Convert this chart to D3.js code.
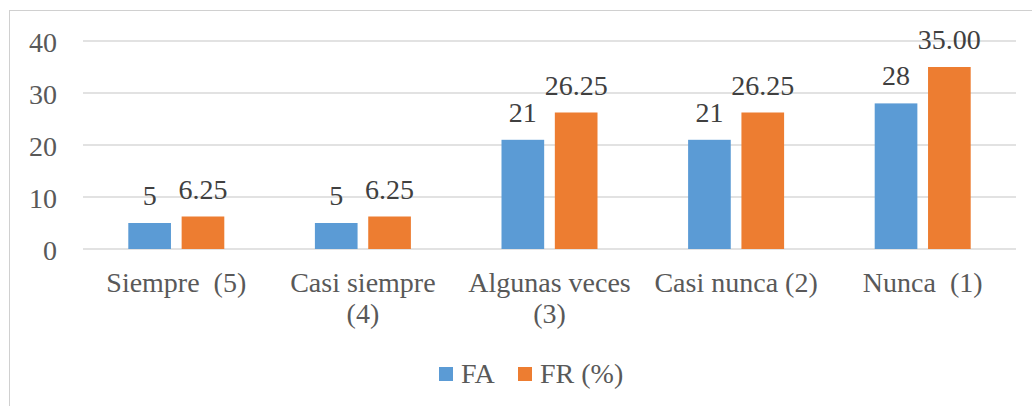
<!DOCTYPE html>
<html>
<head>
<meta charset="utf-8">
<script src="https://cdn.jsdelivr.net/npm/d3@7"></script>
<style>
  @font-face { font-family: "ChartSerif"; src: local("Liberation Serif"), local("LiberationSerif"), local("LiberationSerif-Regular"), local("Times New Roman"); }
</style>
</head>
<body style="margin:0">
<svg id="chart" width="1032" height="406" style="display:block"></svg>
<script>
const categories = ["Siempre  (5)", "Casi siempre\n(4)", "Algunas veces\n(3)", "Casi nunca (2)", "Nunca  (1)"];
const seriesNames = ["FA", "FR (%)"];
const fa = [5, 5, 21, 21, 28];
const fr = [6.25, 6.25, 26.25, 26.25, 35.00];
const frLabels = ["6.25", "6.25", "26.25", "26.25", "35.00"];
const yTicks = [0, 10, 20, 30, 40];
const colors = ["#5B9BD5", "#ED7D31"];

drawChart();

function drawChart() {
  const svg = d3.select("#chart");
  const left = 83, right = 1016, top = 41, bottom = 249;
  const serif = "'Liberation Serif', ChartSerif, Tinos, 'Times New Roman', FreeSerif, serif";

  // outer frame (only top and left edges are visible)
  svg.append("rect")
    .attr("x", 9.5).attr("y", 10.5)
    .attr("width", 1040).attr("height", 420)
    .attr("fill", "none").attr("stroke", "#d0d0d0");

  const x = d3.scaleBand().domain(categories).range([left, right]);
  const inner = d3.scaleBand().domain(seriesNames).range([-48, 48]).paddingInner(0.2);
  const y = d3.scaleLinear().domain([0, 40]).range([bottom, top]);

  // gridlines
  svg.append("g").selectAll("line")
    .data(yTicks).enter().append("line")
    .attr("x1", left).attr("x2", right)
    .attr("y1", d => y(d)).attr("y2", d => y(d))
    .attr("stroke", "#d9d9d9").attr("stroke-width", 1.3);

  // y tick labels
  svg.append("g").selectAll("text")
    .data(yTicks).enter().append("text")
    .attr("x", 57).attr("y", d => y(d) + 10.5)
    .attr("text-anchor", "end")
    .attr("font-family", serif)
    .attr("font-size", 28).attr("fill", "#595959")
    .text(d => d);

  const rows = categories.map((c, i) => ({ cat: c, vals: [
    { s: seriesNames[0], v: fa[i], label: String(fa[i]) },
    { s: seriesNames[1], v: fr[i], label: frLabels[i] }
  ]}));

  const groups = svg.append("g").selectAll("g")
    .data(rows).enter().append("g")
    .attr("transform", d => "translate(" + (x(d.cat) + x.bandwidth() / 2) + ",0)");

  groups.selectAll("rect")
    .data(d => d.vals).enter().append("rect")
    .attr("x", d => inner(d.s))
    .attr("y", d => y(d.v))
    .attr("width", inner.bandwidth())
    .attr("height", d => y(0) - y(d.v))
    .attr("fill", (d, i) => colors[i]);

  groups.selectAll("text.val")
    .data(d => d.vals).enter().append("text")
    .attr("class", "val")
    .attr("x", d => inner(d.s) + inner.bandwidth() / 2)
    .attr("y", d => y(d.v) - 18)
    .attr("text-anchor", "middle")
    .attr("font-family", serif)
    .attr("font-size", 28).attr("fill", "#404040")
    .text(d => d.label);

  // category labels
  const catText = svg.append("g").selectAll("text")
    .data(categories).enter().append("text")
    .attr("x", d => x(d) + x.bandwidth() / 2)
    .attr("y", 292)
    .attr("text-anchor", "middle")
    .attr("font-family", serif)
    .attr("font-size", 28).attr("fill", "#595959")
    .attr("xml:space", "preserve");
  catText.selectAll("tspan")
    .data(d => d.split("\n").map(t => ({ t: t, cx: x(d) + x.bandwidth() / 2 })))
    .enter().append("tspan")
    .attr("x", d => d.cx)
    .attr("dy", (d, i) => i === 0 ? 0 : 31)
    .text(d => d.t);

  // legend
  const legendX = [439, 518];
  const lg = svg.append("g").selectAll("g")
    .data(seriesNames).enter().append("g")
    .attr("transform", (d, i) => "translate(" + legendX[i] + ",367)");
  lg.append("rect").attr("width", 14).attr("height", 14)
    .attr("fill", (d, i) => colors[i]);
  lg.append("text").attr("x", 22).attr("y", 16)
    .attr("font-family", serif)
    .attr("font-size", 28).attr("fill", "#595959")
    .text(d => d);
}
</script>
</body>
</html>
